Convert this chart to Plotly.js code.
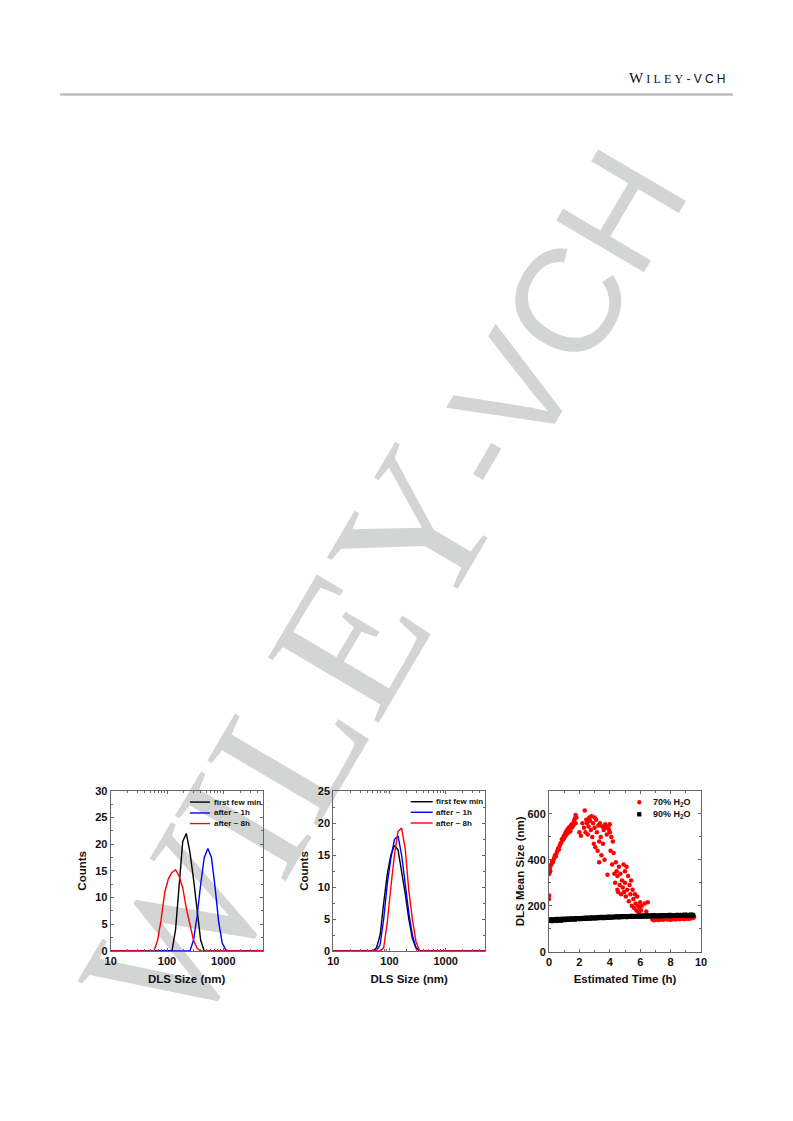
<!DOCTYPE html>
<html>
<head>
<meta charset="utf-8">
<script src="https://cdn.plot.ly/plotly-3.0.1.min.js"></script>
<style>
html,body{margin:0;padding:0;background:#fff;}
#wrap{position:relative;width:793px;height:1121px;}
#bg,#fg{position:absolute;left:0;top:0;width:793px;height:1121px;}
</style>
</head>
<body>
<div id="wrap"><div id="bg"></div><div id="fg"></div></div>
<script>
// ---------- DATA ----------
// DLS size bins (nm)
const sizes = [8.721, 10.1, 11.7, 13.54, 15.69, 18.17, 21.04, 24.36, 28.21, 32.67, 37.84, 43.82,
  50.75, 58.77, 68.06, 78.82, 91.28, 105.7, 122.4, 141.8, 164.2, 190.1, 220.2, 255.0, 295.3,
  342.0, 396.1, 458.7, 531.2, 615.1, 712.4, 825.0, 955.4, 1106, 1281, 1484, 1718, 1990, 2305,
  2669, 3091, 3580, 4145, 4801, 5560];
const seriesNames = ["first few min", "after ~ 1h", "after ~ 8h"];
const seriesColors = ["#000000", "#0000ff", "#ff0000"];

// Panel A counts
const a_first = [0,0,0,0,0,0,0,0,0,0,0,0, 0,0,0,0,0,0,0,4,13,20.5,22,18.5,13.5, 8,2,0,0,0,0,0,0,0,0,0,0,0,0, 0,0,0,0,0,0];
const a_1h    = [0,0,0,0,0,0,0,0,0,0,0,0, 0,0,0,0,0,0,0,0,0,0,0,0,2, 6.5,12.5,17.5,19.2,17.5,12,5.5,1.5,0.2,0,0,0,0,0, 0,0,0,0,0,0];
const a_8h    = [0,0,0,0,0,0,0,0,0,0,0,0, 0,0,2,6,11,13.5,14.7,15.2,14,11.8,8,5,2, 0.5,0,0,0,0,0,0,0,0,0,0,0,0,0, 0,0,0,0,0,0];

// Panel B counts
const b_first = [0,0,0,0,0,0,0,0,0,0,0,0, 0,0.5,2.5,7.5,12,15,16.5,15.8,12.5,9,5,2,0.5, 0,0,0,0,0,0,0,0,0,0,0,0,0,0, 0,0,0,0,0,0];
const b_1h    = [0,0,0,0,0,0,0,0,0,0,0,0, 0,0,1,5,10.5,14.5,17.4,18,15,10.5,6,2.5,0.5, 0,0,0,0,0,0,0,0,0,0,0,0,0,0, 0,0,0,0,0,0];
const b_8h    = [0,0,0,0,0,0,0,0,0,0,0,0, 0,0,0,0.5,4.5,10,15,18.7,19.2,16,9.5,5,1.5, 0,0,0,0,0,0,0,0,0,0,0,0,0,0, 0,0,0,0,0,0];

const xTickVals = [10, 100, 1000];
const xTickText = ["10", "100", "1000"];

// Panel C: DLS mean size vs time
const red70_t = [0.0,0.0,0.02,0.03,0.05,0.08,0.1,0.15,0.2,0.25,0.3,0.35,0.4,0.45,0.5,0.55,0.6,0.65,0.7,0.75,
  0.8,0.85,0.9,0.95,1.0,1.0,1.05,1.1,1.1,1.15,1.2,1.2,1.25,1.3,1.3,1.35,1.4,1.4,1.45,1.5,1.5,1.55,1.6,1.6,1.65,1.7,1.75,1.75,1.8,
  2.0,2.1,2.2,2.3,2.35,2.4,2.45,2.5,2.55,2.6,2.65,2.7,2.75,2.8,2.85,2.9,2.95,3.0,3.0,3.05,3.1,3.15,3.2,3.25,3.3,3.3,
  3.35,3.4,3.45,3.5,3.55,3.6,3.65,3.7,3.75,3.8,3.85,3.9,3.95,4.0,4.0,4.05,4.1,4.15,4.2,4.25,4.3,4.35,4.4,4.45,
  4.5,4.5,4.55,4.6,4.65,4.7,4.75,4.8,4.85,4.9,4.95,5.0,5.0,5.05,5.1,5.15,5.2,5.25,5.3,5.35,5.4,5.45,5.5,5.55,
  5.6,5.65,5.7,5.75,5.8,5.85,5.9,5.95,6.0,6.05,6.1,6.2,6.3,6.4,6.5,
  6.8,6.9,7.0,7.1,7.2,7.3,7.4,7.5,7.6,7.7,7.8,7.9,8.0,8.1,8.2,8.3,8.4,8.5,8.6,8.7,8.8,8.9,9.0,9.1,9.2,9.3,9.4,9.5,9.55];
const red70_v = [230,245,340,355,365,350,375,380,395,390,400,410,420,415,430,440,450,445,460,470,
  475,490,485,500,505,495,510,520,505,525,515,530,535,520,540,530,545,525,550,540,555,545,560,550,570,580,595,560,585,
  520,505,560,540,615,520,575,560,510,545,585,570,530,590,500,560,470,585,540,455,575,520,440,550,480,390,
  560,500,420,545,470,530,400,555,540,510,335,545,530,555,520,440,500,380,480,430,340,300,390,350,
  270,330,260,370,290,340,250,310,280,380,260,350,300,240,370,270,330,220,290,250,310,200,270,230,
  190,250,210,180,240,200,170,190,215,180,200,160,210,175,215,
  140,137,139,141,138,140,142,139,141,143,140,142,139,141,143,140,142,144,141,143,145,142,144,146,143,145,147,148,152];

const black90_tA = [0.0,0.1,0.2,0.3,0.4,0.5,0.6,0.7,0.8,0.9,1.0,1.1,1.2,1.3,1.4,1.5,1.6,1.7,1.8,1.9,
  2.0,2.1,2.2,2.3,2.4,2.5,2.6,2.7,2.8,2.9,3.0,3.1,3.2,3.3,3.4,3.5,3.6,3.7,3.8,3.9,
  4.0,4.1,4.2,4.3,4.4,4.5,4.6,4.7,4.8,4.9,5.0,5.1,5.2,5.3,5.4,5.5,5.6,5.7,5.8,5.9,
  6.0,6.1,6.2,6.3,6.4,6.5,6.6,6.7,6.8,6.9,7.0,7.1,7.2,7.3,7.4,7.5,7.6,7.7,7.8,7.9,
  8.0,8.1,8.2,8.3,8.4,8.5,8.6,8.7,8.8,8.9,9.0,9.1,9.2,9.3,9.4,9.5];
const black90_vA = [134,135,133,136,135,134,137,136,135,138, 137,139,138,140,139,141,140,139,142,141,
  142,141,143,144,142,145,144,143,146,145, 146,145,147,146,148,147,146,148,149,147,
  149,148,150,149,151,150,149,151,150,152, 151,150,152,151,153,152,151,153,152,154,
  151,153,152,154,153,152,154,153,155,154, 153,155,154,153,155,154,156,155,154,156,
  155,154,156,155,157,156,155,157,156,155, 157,156,155,157,156,158];
const black90_tB = [0.05,0.15,0.25,0.35,0.45,0.55,0.65,0.75,0.85,0.95,1.05,1.15,1.25,1.35,1.45,1.55,1.65,1.75,1.85,1.95,
  2.05,2.15,2.25,2.35,2.45,2.55,2.65,2.75,2.85,2.95,3.05,3.15,3.25,3.35,3.45,3.55,3.65,3.75,3.85,3.95,
  4.05,4.15,4.25,4.35,4.45,4.55,4.65,4.75,4.85,4.95,5.05,5.15,5.25,5.35,5.45,5.55,5.65,5.75,5.85,5.95,
  6.05,6.15,6.25,6.35,6.45,6.55,6.65,6.75,6.85,6.95,7.05,7.15,7.25,7.35,7.45,7.55,7.65,7.75,7.85,7.95,
  8.05,8.15,8.25,8.35,8.45,8.55,8.65,8.75,8.85,8.95,9.05,9.15,9.25,9.35,9.45];
const black90_vB = [140,141,139,142,141,143,142,141,144,143, 144,143,145,144,146,145,144,147,146,145,
  147,146,148,147,149,148,147,150,149,148, 150,149,151,150,152,151,150,152,151,153,
  152,151,153,152,154,153,152,155,154,153, 155,154,156,155,157,156,155,157,156,158,
  157,156,158,157,159,158,157,159,158,160, 158,157,159,158,160,159,158,160,159,161,
  159,158,160,159,161,160,159,161,160,162, 160,161,160,162,161];

// ---------- STYLE ----------
const FONT = "Liberation Sans, Arial, sans-serif";
const tickFont = {family: FONT, size: 11, color: "#111", weight: "bold"};
const titleFont = {family: FONT, size: 11.5, color: "#111", weight: "bold"};
function baseAxis(extra) {
  return Object.assign({
    showline: true, linecolor: "#666", linewidth: 1, mirror: "ticks",
    ticks: "inside", ticklen: 3, tickcolor: "#666", tickwidth: 1,
    showgrid: false, zeroline: false, tickfont: tickFont, fixedrange: true
  }, extra);
}

const traces = [];
const panelA = [a_first, a_1h, a_8h];
const panelB = [b_first, b_1h, b_8h];
panelA.forEach((ys, i) => traces.push({x: sizes, y: ys, type: "scatter", mode: "lines",
  line: {color: seriesColors[i], width: 1.4}, xaxis: "x", yaxis: "y", showlegend: false, name: seriesNames[i]}));
panelB.forEach((ys, i) => traces.push({x: sizes, y: ys, type: "scatter", mode: "lines",
  line: {color: seriesColors[i], width: 1.4}, xaxis: "x2", yaxis: "y2", showlegend: false, name: seriesNames[i]}));
traces.push({x: red70_t, y: red70_v, type: "scatter", mode: "markers",
  marker: {color: "#ff0000", size: 4.5, symbol: "circle"}, xaxis: "x3", yaxis: "y3", showlegend: false});
traces.push({x: black90_tA.concat(black90_tB), y: black90_vA.concat(black90_vB), type: "scatter", mode: "markers",
  marker: {color: "#000000", size: 4, symbol: "square"}, xaxis: "x3", yaxis: "y3", showlegend: false});

const W = 793, H = 1121;
function dx(a, b) { return [a / W, b / W]; }
function dy(top, bottom) { return [1 - bottom / H, 1 - top / H]; }

const logX = {type: "log", range: [1, Math.log10(5000)], tickvals: xTickVals, ticktext: xTickText,
  minor: {ticks: "inside", ticklen: 2, tickcolor: "#666", dtick: "D1"},
  title: {text: "DLS Size (nm)", font: titleFont, standoff: 8}};

const layout = {
  width: W, height: H, autosize: false,
  margin: {l: 0, r: 0, t: 0, b: 0},
  paper_bgcolor: "rgba(0,0,0,0)", plot_bgcolor: "rgba(0,0,0,0)",
  showlegend: false,
  xaxis: baseAxis(Object.assign({}, logX, {domain: dx(110.7, 262.7), anchor: "y"})),
  yaxis: baseAxis({domain: dy(790.7, 951), anchor: "x", range: [0, 30], dtick: 5,
    minor: {ticks: "inside", ticklen: 2, tickcolor: "#666", dtick: 2.5},
    title: {text: "Counts", font: titleFont, standoff: 6}}),
  xaxis2: baseAxis(Object.assign({}, logX, {domain: dx(333.3, 485), anchor: "y2"})),
  yaxis2: baseAxis({domain: dy(791, 951), anchor: "x2", range: [0, 25], dtick: 5,
    minor: {ticks: "inside", ticklen: 2, tickcolor: "#666", dtick: 2.5},
    title: {text: "Counts", font: titleFont, standoff: 6}}),
  xaxis3: baseAxis({domain: dx(549, 701), anchor: "y3", range: [0, 10], dtick: 2,
    minor: {ticks: "inside", ticklen: 2, tickcolor: "#666", dtick: 1},
    title: {text: "Estimated Time (h)", font: titleFont, standoff: 8}}),
  yaxis3: baseAxis({domain: dy(791, 951.7), anchor: "x3", range: [0, 700], dtick: 200,
    minor: {ticks: "inside", ticklen: 2, tickcolor: "#666", dtick: 100},
    title: {text: "DLS Mean Size (nm)", font: titleFont, standoff: 0}}),
  shapes: [], annotations: []
};

// custom legends for panels A and B
const legA = {x0: 0.522, x1: 0.653, tx: 0.664, rows: [0.929, 0.861, 0.795], xr: "x domain", yr: "y domain"};
const legB = {x0: 0.510, x1: 0.655, tx: 0.664, rows: [0.933, 0.867, 0.800], xr: "x2 domain", yr: "y2 domain"};
[legA, legB].forEach(L => {
  seriesNames.forEach((nm, i) => {
    layout.shapes.push({type: "line", xref: L.xr, yref: L.yr, x0: L.x0, x1: L.x1, y0: L.rows[i], y1: L.rows[i],
      line: {color: seriesColors[i], width: 1.4}});
    layout.annotations.push({xref: L.xr, yref: L.yr, x: L.tx, y: L.rows[i], text: nm, showarrow: false,
      xanchor: "left", yanchor: "middle", font: {family: FONT, size: 8, color: "#111", weight: "bold"}});
  });
});
// legend for panel C
const legC = [{label: "70% H<sub>2</sub>O", color: "#ff0000", kind: "circle", y: 0.930},
              {label: "90% H<sub>2</sub>O", color: "#000000", kind: "rect", y: 0.855}];
legC.forEach(e => {
  layout.shapes.push({type: e.kind, xref: "x3 domain", yref: "y3 domain",
    x0: 0.594 - 0.014, x1: 0.594 + 0.014, y0: e.y - 0.0135, y1: e.y + 0.0135,
    fillcolor: e.color, line: {width: 0}});
  layout.annotations.push({xref: "x3 domain", yref: "y3 domain", x: 0.668, y: e.y, text: e.label, showarrow: false,
    xanchor: "left", yanchor: "middle", font: {family: FONT, size: 9, color: "#111", weight: "bold"}});
});

// header
layout.shapes.push({type: "line", xref: "paper", yref: "paper", x0: 60 / W, x1: 733 / W, y0: 1 - 94.5 / H, y1: 1 - 94.5 / H,
  line: {color: "#bdbdbd", width: 2.5}});
layout.annotations.push({xref: "paper", yref: "paper", x: 679 / W, y: 1 - 78 / H, xanchor: "center", yanchor: "middle",
  showarrow: false, font: {family: "Liberation Serif, serif", size: 12, color: "#111"},
  text: "<span style=\"letter-spacing:3.2px\"><span style=\"font-size:15px\">W</span>ILEY<span style=\"font-family:Liberation Sans\">-VCH</span></span>"});

// background watermark
const bgLayout = {
  width: W, height: H, autosize: false, margin: {l: 0, r: 0, t: 0, b: 0},
  paper_bgcolor: "#ffffff", plot_bgcolor: "#ffffff",
  xaxis: {visible: false}, yaxis: {visible: false},
  annotations: [{xref: "paper", yref: "paper", x: 382 / W, y: 1 - 585 / H, xanchor: "center", yanchor: "middle",
    textangle: -59.5, showarrow: false,
    font: {family: "Liberation Sans, Arial, sans-serif", size: 148, color: "#d3d4d4"},
    text: "<span style=\"font-family:Liberation Serif;font-size:196px\">WILEY</span>-VCH"}]
};
Plotly.newPlot("bg", [], bgLayout, {staticPlot: true, displayModeBar: false});
Plotly.newPlot("fg", traces, layout, {staticPlot: true, displayModeBar: false});
</script>
</body>
</html>
